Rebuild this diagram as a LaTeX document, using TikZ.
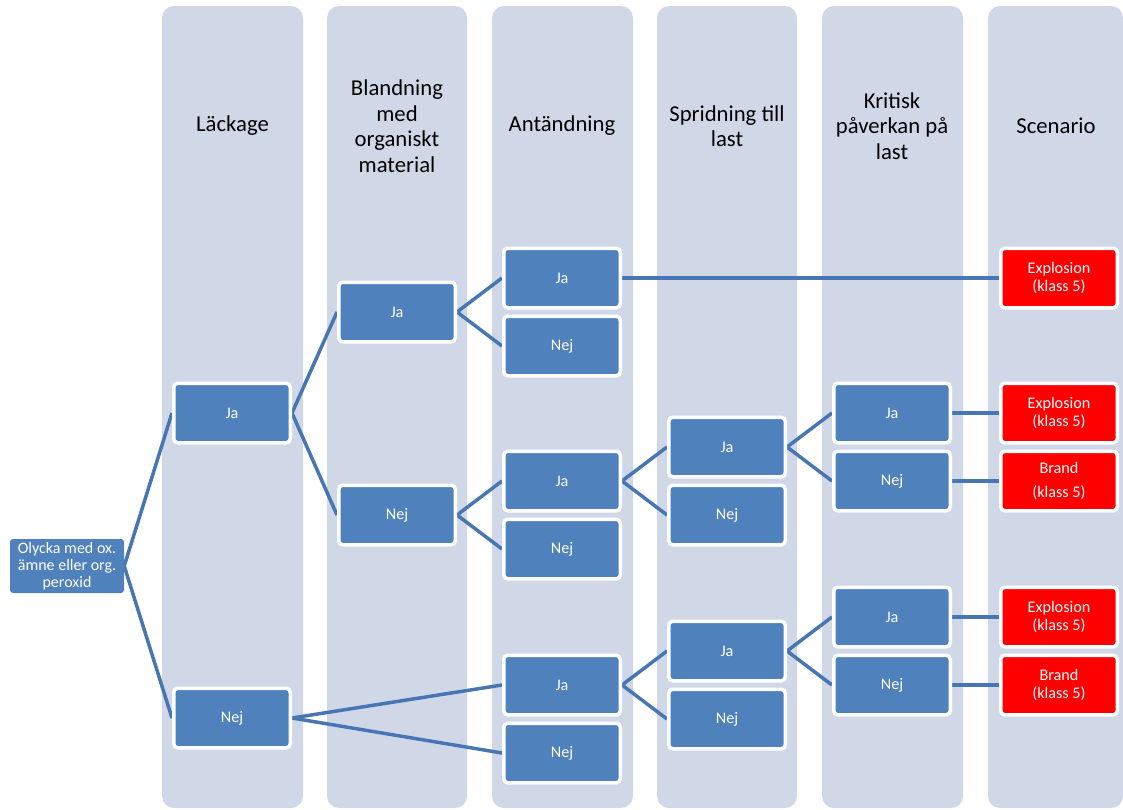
\documentclass[tikz,border=0pt]{standalone}
\usepackage{fontspec}
\setmainfont{Carlito}
\definecolor{colbg}{HTML}{D0D8E8}
\definecolor{boxblue}{HTML}{4F81BD}
\definecolor{linkblue}{HTML}{4876B2}
\definecolor{scred}{HTML}{FF0000}
\pgfdeclarelayer{lanes}
\pgfdeclarelayer{edges}
\pgfsetlayers{lanes,edges,main}
\begin{document}
\begin{tikzpicture}[x=1pt,y=-1pt,
  lane/.style={fill=colbg, draw=none, rounded corners=12pt},
  head/.style={align=center, font=\fontsize{22.7}{25.5}\selectfont, text=black, inner sep=0pt},
  box/.style={fill=boxblue, draw=white, line width=3.5pt, rounded corners=4pt,
    minimum width=116.5pt, minimum height=59.5pt, text=white,
    font=\fontsize{16.2}{17.5}\selectfont, align=center, inner sep=0pt},
  redbox/.style={box, fill=scred},
  rootbox/.style={fill=boxblue, draw=none, rounded corners=3pt,
    minimum width=114pt, minimum height=54pt, text=white,
    font=\fontsize{16}{17}\selectfont, align=center, inner sep=0pt},
  link/.style={draw=linkblue, line width=3.5pt}
]
\useasboundingbox (0,0) rectangle (1123,809);

\begin{pgfonlayer}{lanes}
  \fill[lane] (162,6) rectangle (303,808);
  \fill[lane] (327,6) rectangle (467,808);
  \fill[lane] (492,6) rectangle (633,808);
  \fill[lane] (657,6) rectangle (797,808);
  \fill[lane] (822,6) rectangle (963,808);
  \fill[lane] (988,6) rectangle (1123,808);
\end{pgfonlayer}

% headers
\node[head] (h1) at (232.5,126) {Läckage};
\node[head] (h2) at (397,126) {Blandning\\med\\organiskt\\material};
\node[head] (h3) at (562,126) {Antändning};
\node[head] (h4) at (727,126) {Spridning till\\last};
\node[head] (h5) at (892,126) {Kritisk\\påverkan på\\last};
\node[head] (h6) at (1056,126) {Scenario};

% root
\node[rootbox] (root) at (67,566) {Olycka med ox.\\ämne eller org.\\peroxid};

% column 1
\node[box] (l1) at (232,413) {Ja};
\node[box] (l2) at (232,718) {Nej};
% column 2
\node[box] (b1) at (397,312) {Ja};
\node[box] (b2) at (397,515) {Nej};
% column 3
\node[box] (a1) at (562,278) {Ja};
\node[box] (a2) at (562,346) {Nej};
\node[box] (a3) at (562,481) {Ja};
\node[box] (a4) at (562,549) {Nej};
\node[box] (a5) at (562,685) {Ja};
\node[box] (a6) at (562,753) {Nej};
% column 4
\node[box] (p1) at (727,447) {Ja};
\node[box] (p2) at (727,515) {Nej};
\node[box] (p3) at (727,651) {Ja};
\node[box] (p4) at (727,719) {Nej};
% column 5
\node[box] (k1) at (892,413) {Ja};
\node[box] (k2) at (892,481) {Nej};
\node[box] (k3) at (892,617) {Ja};
\node[box] (k4) at (892,685) {Nej};
% column 6
\node[redbox] (s1) at (1059,278) {Explosion\\(klass 5)};
\node[redbox] (s2) at (1059,413) {Explosion\\(klass 5)};
\node[redbox] (s3) at (1059,481) {Brand\\[6pt](klass 5)};
\node[redbox] (s4) at (1059,617) {Explosion\\(klass 5)};
\node[redbox] (s5) at (1059,685) {Brand\\(klass 5)};

\begin{pgfonlayer}{edges}
  \draw[link] (l1.west) -- (root.east) -- (l2.west);
  \draw[link] (b1.west) -- (l1.east) -- (b2.west);
  \draw[link] (a1.west) -- (b1.east) -- (a2.west);
  \draw[link] (a3.west) -- (b2.east) -- (a4.west);
  \draw[link] (a5.west) -- (l2.east) -- (a6.west);
  \draw[link] (a1.east) -- (s1.west);
  \draw[link] (p1.west) -- (a3.east) -- (p2.west);
  \draw[link] (p3.west) -- (a5.east) -- (p4.west);
  \draw[link] (k1.west) -- (p1.east) -- (k2.west);
  \draw[link] (k3.west) -- (p3.east) -- (k4.west);
  \draw[link] (k1.east) -- (s2.west);
  \draw[link] (k2.east) -- (s3.west);
  \draw[link] (k3.east) -- (s4.west);
  \draw[link] (k4.east) -- (s5.west);
\end{pgfonlayer}
\end{tikzpicture}
\end{document}
